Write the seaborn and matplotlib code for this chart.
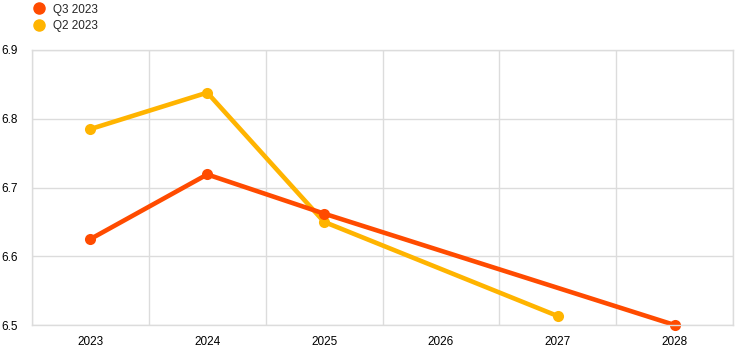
import matplotlib
matplotlib.use("Agg")
import matplotlib.pyplot as plt
import seaborn as sns
import pandas as pd
from matplotlib.lines import Line2D

years_q3 = [2023, 2024, 2025, 2028]
values_q3 = [6.625, 6.719, 6.662, 6.500]
years_q2 = [2023, 2024, 2025, 2027]
values_q2 = [6.785, 6.838, 6.650, 6.513]
series_names = ["Q3 2023", "Q2 2023"]
colors = ["#FF4B00", "#FFB400"]
xticks = [2023, 2024, 2025, 2026, 2027, 2028]
yticks = [6.5, 6.6, 6.7, 6.8, 6.9]

df = pd.concat([
    pd.DataFrame({"year": years_q3, "value": values_q3, "series": series_names[0]}),
    pd.DataFrame({"year": years_q2, "value": values_q2, "series": series_names[1]}),
])

sns.set_style("white")
plt.rcParams['font.family'] = ['Liberation Sans', 'DejaVu Sans']

fig = plt.figure(figsize=(7.44, 3.53), dpi=100)
ax = fig.add_axes([32/744, 1 - 325/353, (733 - 32)/744, (325 - 50)/353])

sns.lineplot(data=df, x="year", y="value", hue="series", hue_order=series_names[::-1],
             palette=dict(zip(series_names, colors)), marker="o", markersize=8,
             markeredgewidth=0, linewidth=3.3, ax=ax, legend=False)
for ln in ax.lines:
    ln.set_clip_on(False)

ax.set_xlim(2022.5, 2028.5)
ax.set_ylim(6.5, 6.9)
ax.set_xticks(xticks)
ax.set_xticklabels([str(x) for x in xticks])
ax.set_yticks(yticks)
ax.set_yticklabels([f"{v:.1f}" for v in yticks])
ax.set_xticks([x + 0.5 for x in [2022] + xticks], minor=True)
ax.grid(False)
ax.grid(True, which="minor", axis="x", color="#dcdcdc", linewidth=1)
ax.grid(True, which="major", axis="y", color="#dcdcdc", linewidth=1)
ax.set_axisbelow(True)
ax.tick_params(axis="both", which="both", length=0, labelsize=8.5, colors="black")
ax.tick_params(axis="x", pad=8)
ax.tick_params(axis="y", pad=10)
for s in ax.spines.values():
    s.set_visible(True)
    s.set_color("#dcdcdc")
    s.set_linewidth(1)
ax.set_xlabel("")
ax.set_ylabel("")

handles = [Line2D([], [], marker="o", linestyle="none", color=c, markersize=8) for c in colors]
fig.legend(handles, series_names, loc="upper left", bbox_to_anchor=(0.022, 1.02),
           frameon=False, fontsize=8.5, handletextpad=0.2, labelspacing=0.4)

fig.savefig("out.png", dpi=100)
